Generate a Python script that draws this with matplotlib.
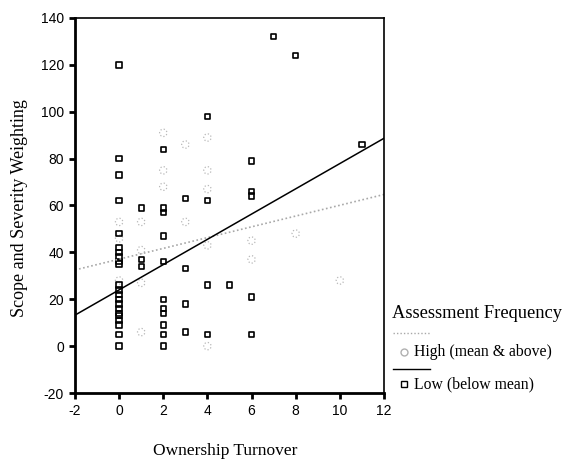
import matplotlib.pyplot as plt
from matplotlib.lines import Line2D
import numpy as np

# Low (below mean) assessment frequency - squares
low_x = [0]*22 + [1]*3 + [2]*11 + [3]*4 + [4]*4 + [5] + [6]*5 + [7, 8, 11]
low_y = [120, 80, 73, 62, 48, 42, 40, 38, 36, 35, 26, 24, 22, 20, 18, 16, 14, 13, 11, 9, 5, 0,
         59, 37, 34,
         84, 59, 57, 47, 36, 20, 16, 14, 9, 5, 0,
         63, 33, 18, 6,
         98, 62, 26, 5,
         26,
         79, 66, 64, 21, 5,
         132, 124, 86]

# High (mean & above) - circles
high_x = [0, 0, 0, 1, 1, 1, 1, 2, 2, 2, 3, 3, 4, 4, 4, 4, 4, 6, 6, 8, 10]
high_y = [53, 46, 28, 53, 41, 27, 6, 91, 75, 68, 86, 53, 89, 75, 67, 43, 0, 45, 37, 48, 28]

# regression lines (intercept, slope)
low_fit = (24.0, 5.39)
high_fit = (37.1, 2.3)

plt.rcParams['font.family'] = ['Liberation Serif', 'DejaVu Serif']
plt.rcParams['axes.unicode_minus'] = False

fig = plt.figure(figsize=(5.65, 4.61), dpi=100)
ax = fig.add_axes([0.1327, 0.1475, 0.547, 0.8135])

xs = np.array([-2, 12])
ax.plot(xs, high_fit[0] + high_fit[1] * xs, color='#a8a8a8', linestyle=(0, (1, 1.5)), linewidth=1.2)
ax.plot(xs, low_fit[0] + low_fit[1] * xs, color='black', linewidth=1.1)

ax.scatter(high_x, high_y, marker='o', s=28, facecolors='none', edgecolors='#b8b8b8',
           linewidths=0.9, linestyle=':')
ax.scatter(low_x, low_y, marker='s', s=15, facecolors='none', edgecolors='black', linewidths=1.2)

ax.set_xlim(-2, 12)
ax.set_ylim(-20, 140)
ax.set_xticks(np.arange(-2, 13, 2))
ax.set_yticks(np.arange(-20, 141, 20))
for lab in ax.get_xticklabels() + ax.get_yticklabels():
    lab.set_fontfamily('Liberation Sans')
    lab.set_fontsize(10)
ax.tick_params(direction='out', length=4, width=2, pad=4)
ax.spines['left'].set_linewidth(2)
ax.spines['bottom'].set_linewidth(2)
ax.spines['top'].set_linewidth(1.2)
ax.spines['right'].set_linewidth(1.2)

fig.text(225 / 565, 1 - 451 / 461, 'Ownership Turnover', ha='center', va='center', fontsize=12.5)
fig.text(20 / 565, 1 - 208 / 461, 'Scope and Severity Weighting', ha='center', va='center',
         rotation=90, fontsize=13)

# legend drawn by hand
fig.text(392 / 565, 1 - 313 / 461, 'Assessment Frequency', ha='left', va='center', fontsize=13.3)
fig.add_artist(Line2D([393 / 565, 430 / 565], [1 - 333 / 461] * 2, color='#a8a8a8',
                      linestyle=(0, (1, 1.5)), linewidth=1))
fig.add_artist(Line2D([404 / 565], [1 - 352 / 461], marker='o', markersize=5, markerfacecolor='none',
                      markeredgecolor='#b0b0b0', linestyle='none'))
fig.text(414 / 565, 1 - 352 / 461, 'High (mean & above)', ha='left', va='center', fontsize=11.3)
fig.add_artist(Line2D([393 / 565, 430 / 565], [1 - 369 / 461] * 2, color='black', linewidth=1))
fig.add_artist(Line2D([404 / 565], [1 - 384 / 461], marker='s', markersize=4, markerfacecolor='none',
                      markeredgecolor='black', linestyle='none'))
fig.text(414 / 565, 1 - 384 / 461, 'Low (below mean)', ha='left', va='center', fontsize=11.3)

fig.savefig('out.png', dpi=100)
